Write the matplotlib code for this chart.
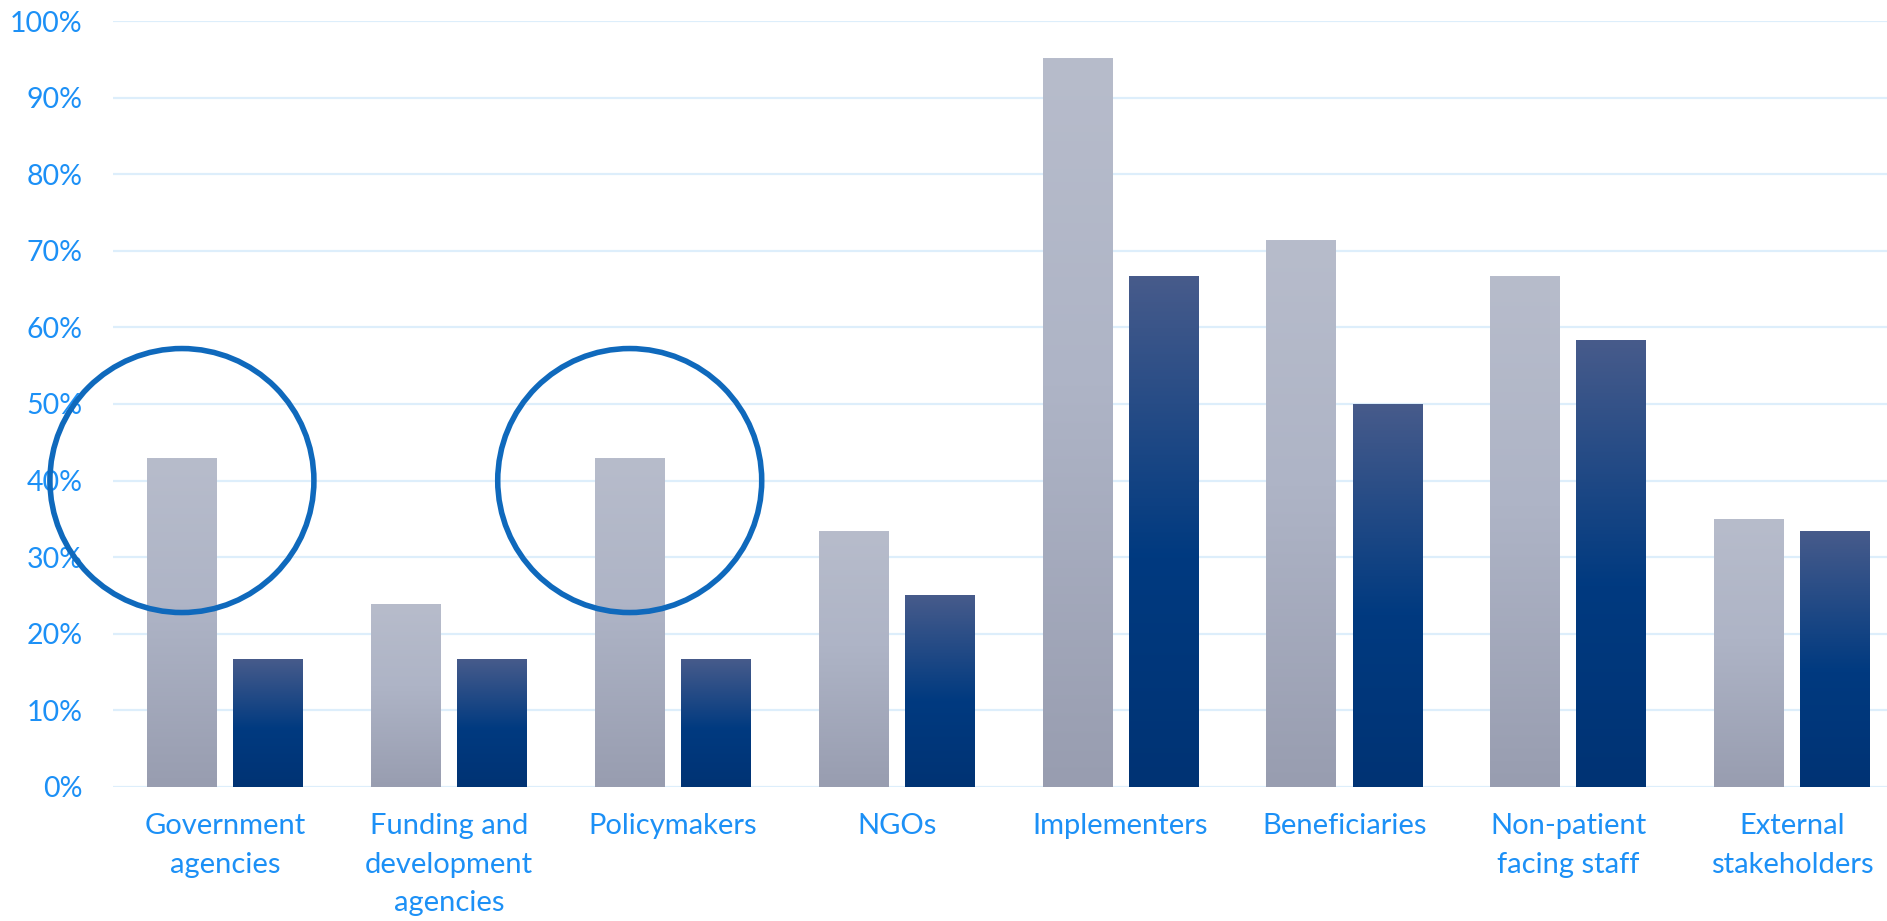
import numpy as np
import matplotlib
matplotlib.use("Agg")
import matplotlib.pyplot as plt
from matplotlib.colors import LinearSegmentedColormap

plt.rcParams['font.family'] = ['Lato', 'DejaVu Sans']

# data
categories = ["Government\nagencies", "Funding and\ndevelopment\nagencies", "Policymakers",
              "NGOs", "Implementers", "Beneficiaries", "Non-patient\nfacing staff",
              "External\nstakeholders"]
series_1 = [0.4286, 0.2381, 0.4286, 0.3333, 0.9524, 0.7143, 0.6667, 0.35]
series_2 = [0.1667, 0.1667, 0.1667, 0.25, 0.6667, 0.50, 0.5833, 0.3333]
yticks = [0, 0.1, 0.2, 0.3, 0.4, 0.5, 0.6, 0.7, 0.8, 0.9, 1.0]
highlight = [0, 2]       # categories circled
highlight_level = 0.40

label_color = '#1C90F6'
grid_color = '#DDEEFB'
ring_color = '#0F69BC'

gray_cmap = LinearSegmentedColormap.from_list('g', [(0, '#989DB0'), (0.55, '#AEB4C6'), (1, '#B7BCCB')])
blue_cmap = LinearSegmentedColormap.from_list('b', [(0, '#003374'), (0.45, '#003A80'), (1, '#475B8B')])

fig = plt.figure(figsize=(18.87, 9.21), dpi=100)
W, H = 1887, 921
ax = fig.add_axes([113 / W, 1 - 786.7 / H, (W - 113) / W, (786.7 - 21.3) / H])

x = np.arange(len(categories))
bar_w = 0.3125
gap = 0.072
off = (bar_w + gap) / 2

bars1 = ax.bar(x - off, series_1, bar_w, color='#A8AEC1', zorder=2)
bars2 = ax.bar(x + off, series_2, bar_w, color='#00387D', zorder=2)

grad = np.linspace(0, 1, 256).reshape(-1, 1)
for bars, cmap in ((bars1, gray_cmap), (bars2, blue_cmap)):
    for b in bars:
        x0, y0 = b.get_x(), b.get_y()
        ax.imshow(grad, cmap=cmap, origin='lower', aspect='auto', zorder=3,
                  extent=[x0, x0 + b.get_width(), y0, y0 + b.get_height()])

# rings around the highlighted bars
r_px = 132
d_pt = 2 * r_px * 72 / fig.dpi
ax.scatter(x[highlight] - off, [highlight_level] * len(highlight), s=d_pt ** 2, marker='o',
           facecolors='none', edgecolors=ring_color, linewidths=4, zorder=5, clip_on=False)

ax.set_xlim(-0.5, (W - 225) / 223.9)
ax.set_ylim(0, 1.0)
ax.set_yticks(yticks)
ax.set_yticklabels([f"{int(round(v * 100))}%" for v in yticks])
ax.set_xticks(x)
ax.set_xticklabels(categories, linespacing=1.6, multialignment='center')

ax.grid(axis='y', color=grid_color, linewidth=1.6)
ax.set_axisbelow(True)
for s in ax.spines.values():
    s.set_visible(False)
ax.tick_params(axis='both', length=0, colors=label_color)
ax.tick_params(axis='y', pad=22, labelsize=20.5)
ax.tick_params(axis='x', pad=19, labelsize=21)
for lbl in ax.get_yticklabels() + ax.get_xticklabels():
    lbl.set_color(label_color)

fig.savefig('out.png', dpi=100)
